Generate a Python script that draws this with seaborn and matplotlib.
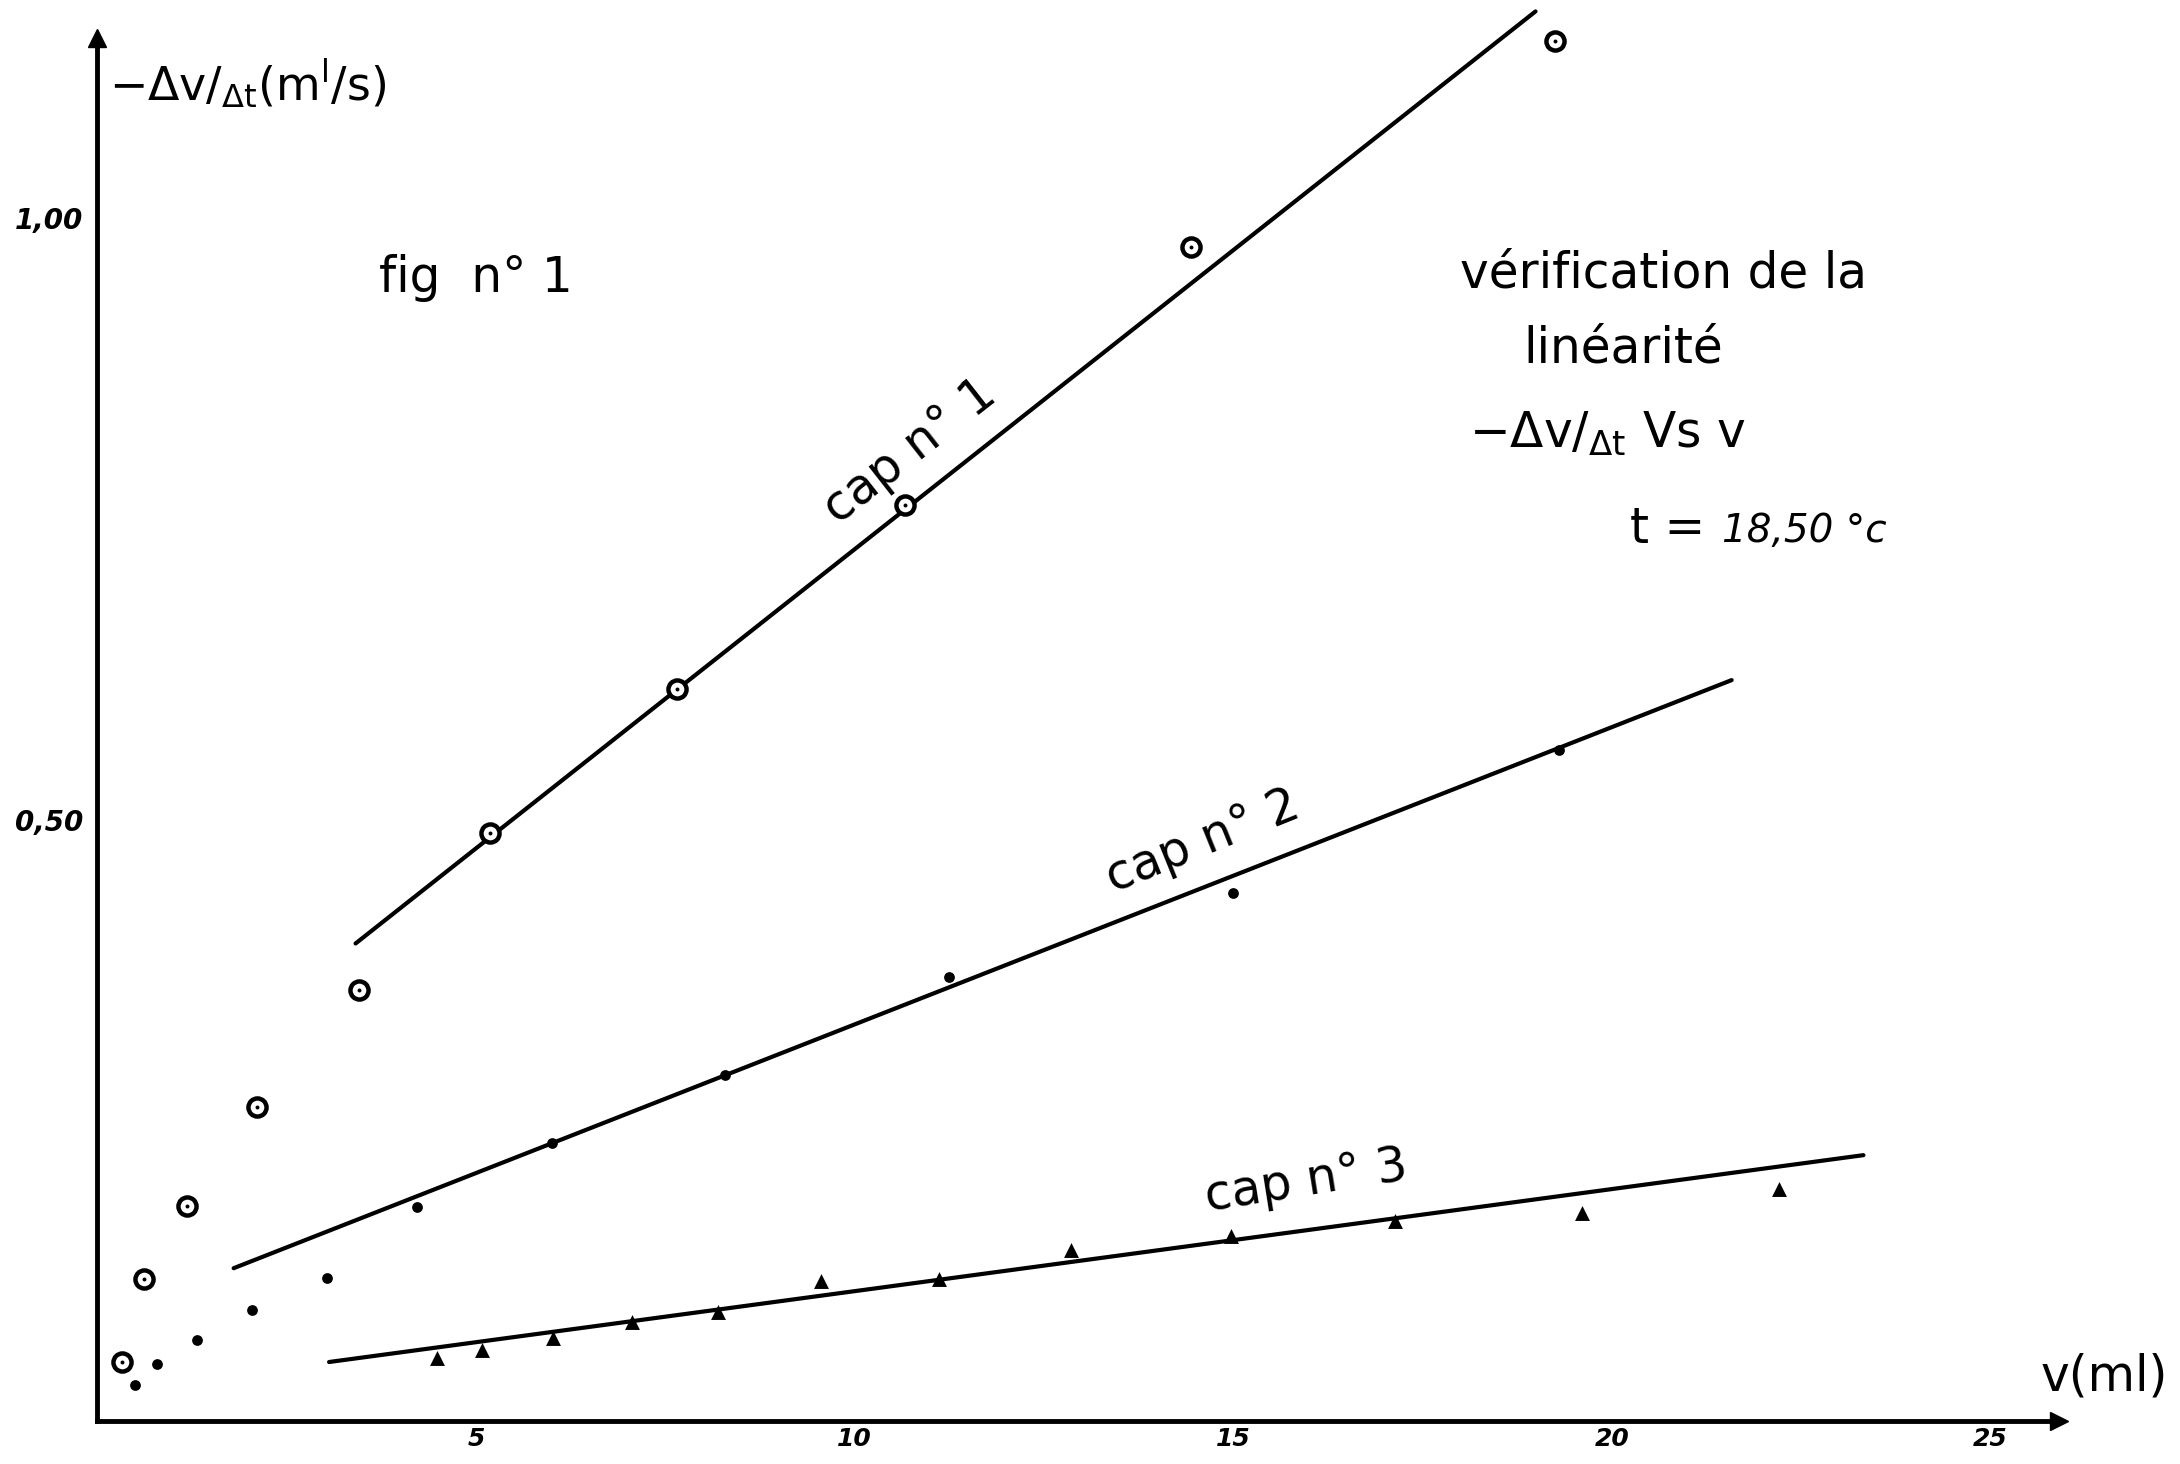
import numpy as np
import matplotlib
matplotlib.use('Agg')
import matplotlib.pyplot as plt
import pandas as pd
import seaborn as sns

sns.set_theme(style='white')
plt.rcParams['font.family'] = ['DejaVu Sans']

# readings from the hand drawn figure: v (ml) and -dv/dt (ml/s)
cap1_v = [0.33, 0.62, 1.19, 2.11, 3.45, 5.19, 7.65, 10.66, 14.44, 19.25]
cap1_q = [0.049, 0.118, 0.179, 0.261, 0.358, 0.489, 0.609, 0.762, 0.976, 1.147]

cap2_v = [0.50, 0.79, 1.32, 2.04, 3.03, 4.22, 6.0, 8.29, 11.25, 14.99, 19.30]
cap2_q = [0.030, 0.047, 0.067, 0.092, 0.119, 0.178, 0.231, 0.288, 0.369, 0.439, 0.558]

cap3_v = [4.48, 5.08, 6.02, 7.06, 8.20, 9.56, 11.12, 12.86, 14.97, 17.14, 19.60, 22.20]
cap3_q = [0.052, 0.059, 0.069, 0.082, 0.091, 0.116, 0.118, 0.142, 0.154, 0.166, 0.173, 0.193]

# hand drawn straight lines (end points)
fit1_v = [3.41, 18.99]
fit1_q = [0.397, 1.172]
fit2_v = [1.80, 21.58]
fit2_q = [0.127, 0.616]
fit3_v = [3.06, 23.32]
fit3_q = [0.049, 0.221]

xtick_vals = [5, 10, 15, 20, 25]
xtick_text = ['5', '10', '15', '20', '25']
ytick_vals = [0.5, 1.0]
ytick_text = ['0,50', '1,00']

fig = plt.figure(figsize=(21.8, 14.64), dpi=100)
ax = fig.add_axes([0, 0, 1, 1])
ax.set_xlim(-1.285, 27.5)
ax.set_ylim(-0.0358, 1.1815)

# fit lines
for fv, fq in [(fit1_v, fit1_q), (fit2_v, fit2_q), (fit3_v, fit3_q)]:
    sns.lineplot(x=fv, y=fq, ax=ax, color='black', linewidth=3, legend=False)

# points
sns.scatterplot(x=cap1_v, y=cap1_q, ax=ax, marker='o', s=170, facecolor='white',
                edgecolor='black', linewidth=3.2, zorder=5)
sns.scatterplot(x=cap1_v, y=cap1_q, ax=ax, marker='o', s=8, color='black',
                linewidth=0, zorder=6)
sns.scatterplot(x=cap2_v, y=cap2_q, ax=ax, marker='o', s=60, color='black',
                linewidth=0, zorder=5)
sns.scatterplot(x=cap3_v, y=cap3_q, ax=ax, marker='^', s=115, color='black',
                linewidth=0, zorder=5)

# axes as arrows through the origin
for side in ['top', 'right']:
    ax.spines[side].set_visible(False)
ax.spines['left'].set_position(('data', 0))
ax.spines['bottom'].set_position(('data', 0))
ax.spines['left'].set_bounds(0, 1.145)
ax.spines['bottom'].set_bounds(0, 25.85)
for side in ['left', 'bottom']:
    ax.spines[side].set_color('black')
    ax.spines[side].set_linewidth(3.5)
ax.plot([0], [1.15], marker='^', color='black', markersize=13, clip_on=False)
ax.plot([25.9], [0], marker='>', color='black', markersize=13, clip_on=False)

ax.set_xticks(xtick_vals)
ax.set_xticklabels(xtick_text, fontsize=18, style='italic', fontweight='bold')
ax.set_yticks(ytick_vals)
ax.set_yticklabels(ytick_text, fontsize=20, style='italic', fontweight='bold')
ax.tick_params(axis='both', direction='in', length=10, width=2.5, colors='black')
ax.tick_params(axis='x', pad=4)
ax.tick_params(axis='y', pad=10)
ax.grid(False)

txt = dict(color='black', fontsize=35, fontweight='normal')
ax.text(0.15, 1.112, r'$\mathregular{-\Delta v/_{\Delta t}(m^{l}/s)}$', ha='left', va='center',
        color='black', fontsize=33)
ax.text(5.0, 0.950, 'fig  n° 1', ha='center', va='center', **txt)
ax.text(20.68, 0.954, 'vérification de la', ha='center', va='center', **txt)
ax.text(20.15, 0.892, 'linéarité', ha='center', va='center', **txt)
ax.text(19.94, 0.821, r'$\mathregular{-\Delta v/_{\Delta t}}$ Vs v', ha='center', va='center', **txt)
ax.text(20.73, 0.742, 't =', ha='center', va='center', **txt)
ax.text(21.45, 0.740, '18,50 °c', ha='left', va='center', color='black', fontsize=28,
        style='italic')
ax.text(26.5, 0.037, 'v(ml)', ha='center', va='center', **txt)

ax.text(10.73, 0.806, 'cap n° 1', ha='center', va='center', rotation=38, rotation_mode='anchor', **txt)
ax.text(14.59, 0.482, 'cap n° 2', ha='center', va='center', rotation=22, rotation_mode='anchor', **txt)
ax.text(15.96, 0.199, 'cap n° 3', ha='center', va='center', rotation=9, rotation_mode='anchor', **txt)

fig.savefig('out.png', dpi=100, facecolor='white')
